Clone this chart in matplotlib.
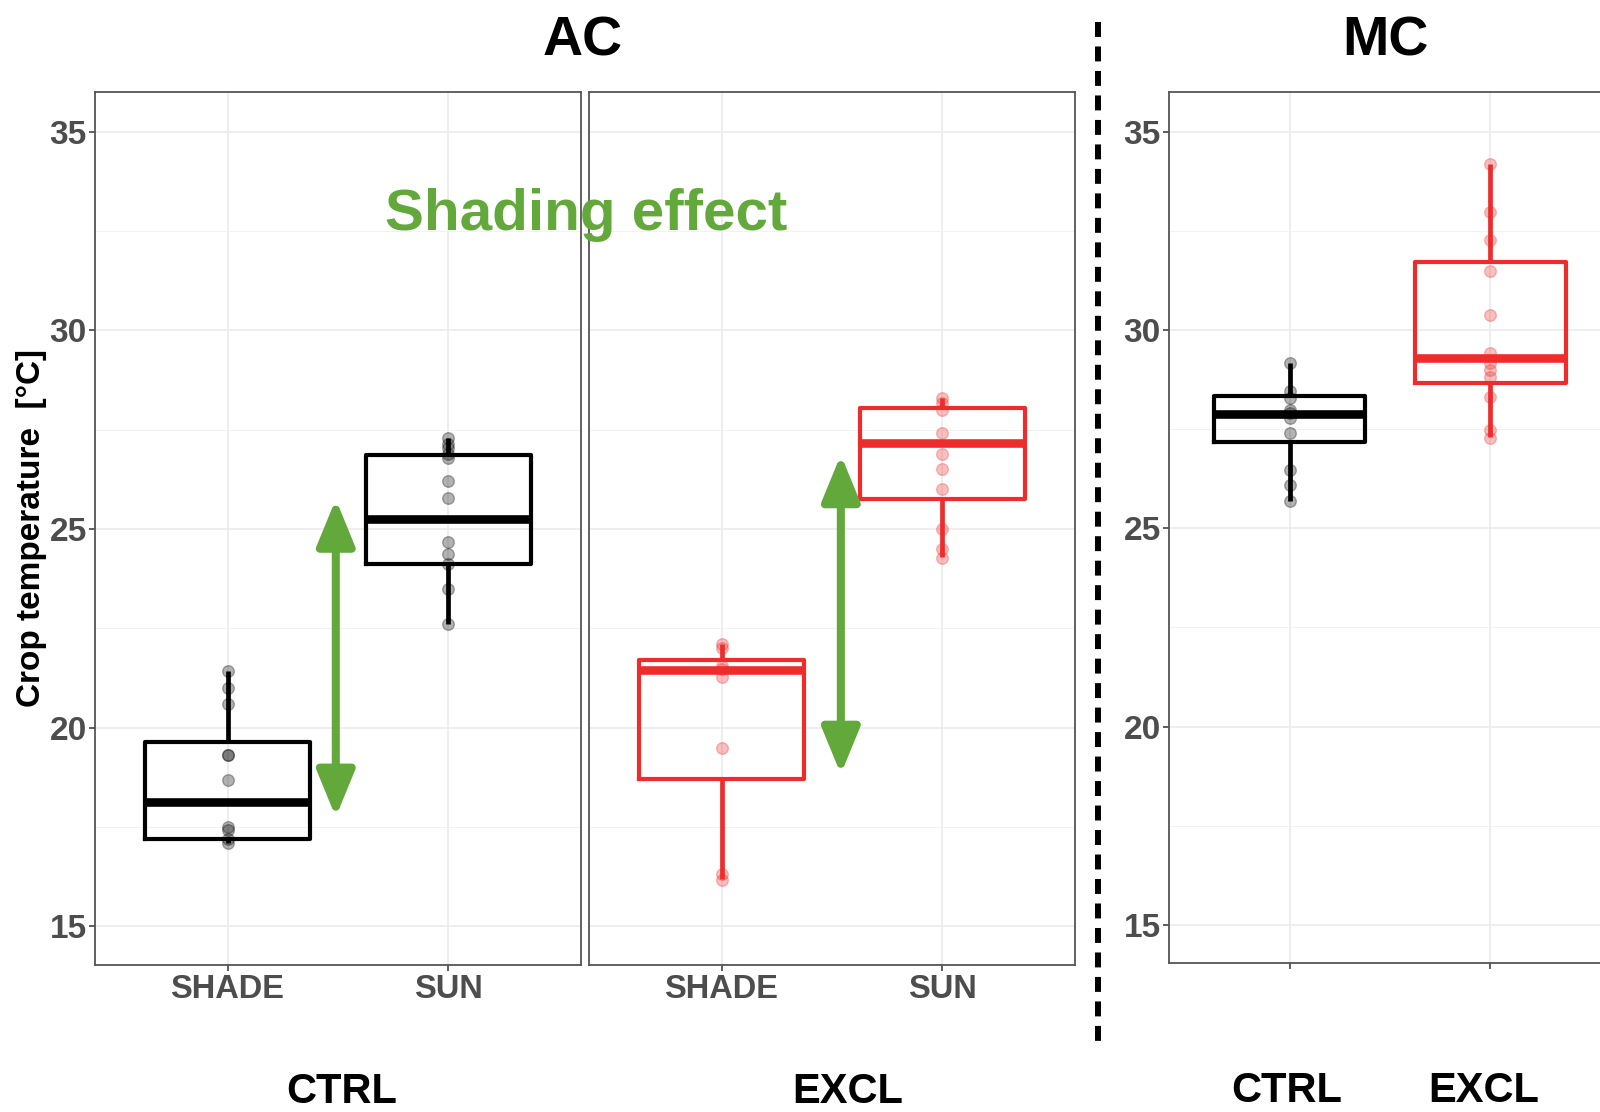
import matplotlib
matplotlib.use("Agg")
import matplotlib.pyplot as plt
import numpy as np

plt.rcParams["font.family"] = ["Liberation Sans", "DejaVu Sans"]
plt.rcParams["font.weight"] = "bold"

W, H = 1600, 1112

# box statistics: whislo, q1, med, q3, whishi
ac_ctrl_cats = ["SHADE", "SUN"]
ac_ctrl_box = [[17.1, 17.2, 18.12, 19.64, 21.42],
               [22.6, 24.13, 25.25, 26.86, 27.28]]
ac_excl_cats = ["SHADE", "SUN"]
ac_excl_box = [[16.2, 18.71, 21.44, 21.70, 22.1],
               [24.3, 25.76, 27.16, 28.04, 28.31]]
mc_cats = ["CTRL", "EXCL"]
mc_box = [[25.7, 27.18, 27.89, 28.34, 29.17],
          [27.3, 28.66, 29.30, 31.71, 34.18]]

# individual observations
ac_ctrl_shade = [21.42, 21.01, 20.59, 19.31, 19.31, 18.69, 17.51, 17.42, 17.2, 17.11]
ac_ctrl_sun = [27.28, 27.15, 27.04, 26.9, 26.79, 26.2, 25.79, 24.67, 24.38, 24.13, 23.49, 22.61]
ac_excl_shade = [22.1, 22.0, 21.55, 21.49, 21.27, 19.48, 16.33, 16.16]
ac_excl_sun = [28.31, 28.18, 27.99, 27.41, 26.89, 26.5, 26.0, 25.0, 24.5, 24.28]
mc_ctrl = [29.17, 28.47, 28.29, 27.99, 27.9, 27.78, 27.39, 26.48, 26.09, 25.68]
mc_excl = [34.18, 32.98, 32.28, 31.49, 30.37, 29.41, 29.17, 28.99, 28.81, 28.30, 27.47, 27.28]

# shading-effect arrows: x, y_top, y_bottom
arrow_ctrl = [1.49, 25.75, 17.75]
arrow_excl = [1.54, 26.87, 18.83]

BLACK = "#000000"
RED = "#EE2C2C"
GREEN = "#62A83A"
GRAY_TXT = "#4D4D4D"
YLIM = (14.04, 36.0)


def px_axes(fig, left, top, right, bottom):
    return fig.add_axes([left / W, 1 - bottom / H, (right - left) / W, (bottom - top) / H])


def panel(ax, boxes, pts, color, labels, show_y=True):
    stats = [dict(whislo=b[0], q1=b[1], med=b[2], q3=b[3], whishi=b[4], fliers=[]) for b in boxes]
    ax.bxp(stats, positions=[1, 2], widths=0.75, showcaps=False, showfliers=False,
           boxprops=dict(color=color, lw=3.0),
           whiskerprops=dict(color=color, lw=3.4, solid_capstyle="butt"),
           medianprops=dict(color=color, lw=6.2, solid_capstyle="butt"))
    for i, p in enumerate(pts):
        ax.scatter(np.full(len(p), i + 1), p, s=70, color=color, alpha=0.3,
                   edgecolors=color, linewidths=1, zorder=4)
    ax.set_xlim(0.4, 2.6)
    ax.set_ylim(*YLIM)
    ax.set_yticks([15, 20, 25, 30, 35])
    ax.set_yticks([17.5, 22.5, 27.5, 32.5], minor=True)
    ax.set_xticks([1, 2])
    ax.set_xticklabels(labels)
    ax.grid(True, which="major", color="#EBEBEB", lw=1.2)
    ax.grid(True, which="minor", axis="y", color="#F2F2F2", lw=0.7)
    ax.set_axisbelow(True)
    ax.tick_params(which="major", length=4, width=1.1, color="#333333", pad=3,
                   labelsize=23.5, labelcolor=GRAY_TXT)
    ax.tick_params(axis="y", labelsize=24, pad=2)
    ax.tick_params(which="minor", length=0)
    for lab in ax.get_xticklabels() + ax.get_yticklabels():
        lab.set_fontweight("bold")
    for s in ax.spines.values():
        s.set_color("#555555")
        s.set_linewidth(1.3)
    if not show_y:
        ax.set_yticklabels([])


def arrow(ax, a):
    ax.annotate("", xy=(a[0], a[1]), xytext=(a[0], a[2]),
                arrowprops=dict(arrowstyle="<|-|>,head_length=2.8,head_width=1.15",
                                color=GREEN, lw=5.8, mutation_scale=10,
                                shrinkA=0, shrinkB=0))


fig = plt.figure(figsize=(W / 100, H / 100), dpi=100)

ax1 = px_axes(fig, 95, 92, 581, 964.5)
panel(ax1, ac_ctrl_box, [ac_ctrl_shade, ac_ctrl_sun], BLACK, ac_ctrl_cats)
arrow(ax1, arrow_ctrl)

ax2 = px_axes(fig, 589, 92, 1075, 964.5)
panel(ax2, ac_excl_box, [ac_excl_shade, ac_excl_sun], RED, ac_excl_cats, show_y=False)
ax2.tick_params(axis="y", length=0)
arrow(ax2, arrow_excl)

ax3 = px_axes(fig, 1169, 92, 1611, 963)
panel(ax3, [mc_box[0], [np.nan] * 5], [mc_ctrl, []], BLACK, ["", ""])
panel(ax3, [[np.nan] * 5, mc_box[1]], [[], mc_excl], RED, ["", ""])


def ftext(x, y, s, **kw):
    fig.text(x / W, 1 - y / H, s, fontweight="bold", **kw)


ftext(583, 56, "AC", fontsize=40, ha="center", va="baseline")
ftext(1385, 56, "MC", fontsize=40, ha="center", va="baseline")
ftext(385, 230, "Shading effect", fontsize=42, color=GREEN, ha="left", va="baseline", zorder=10)
ftext(32, 528, "Crop temperature  [°C]", fontsize=24, rotation=90, ha="center", va="center")
ftext(342, 1103, "CTRL", fontsize=30, ha="center", va="baseline")
ftext(848, 1103, "EXCL", fontsize=30, ha="center", va="baseline")
ftext(1287, 1102, "CTRL", fontsize=30, ha="center", va="baseline")
ftext(1484, 1102, "EXCL", fontsize=30, ha="center", va="baseline")

fig.add_artist(plt.Line2D([1098 / W, 1098 / W], [1 - 22 / H, 1 - 1048 / H], color="black",
                          lw=4.3, linestyle=(0, (2.5, 1.6)), transform=fig.transFigure))

fig.savefig("out.png", dpi=100)
